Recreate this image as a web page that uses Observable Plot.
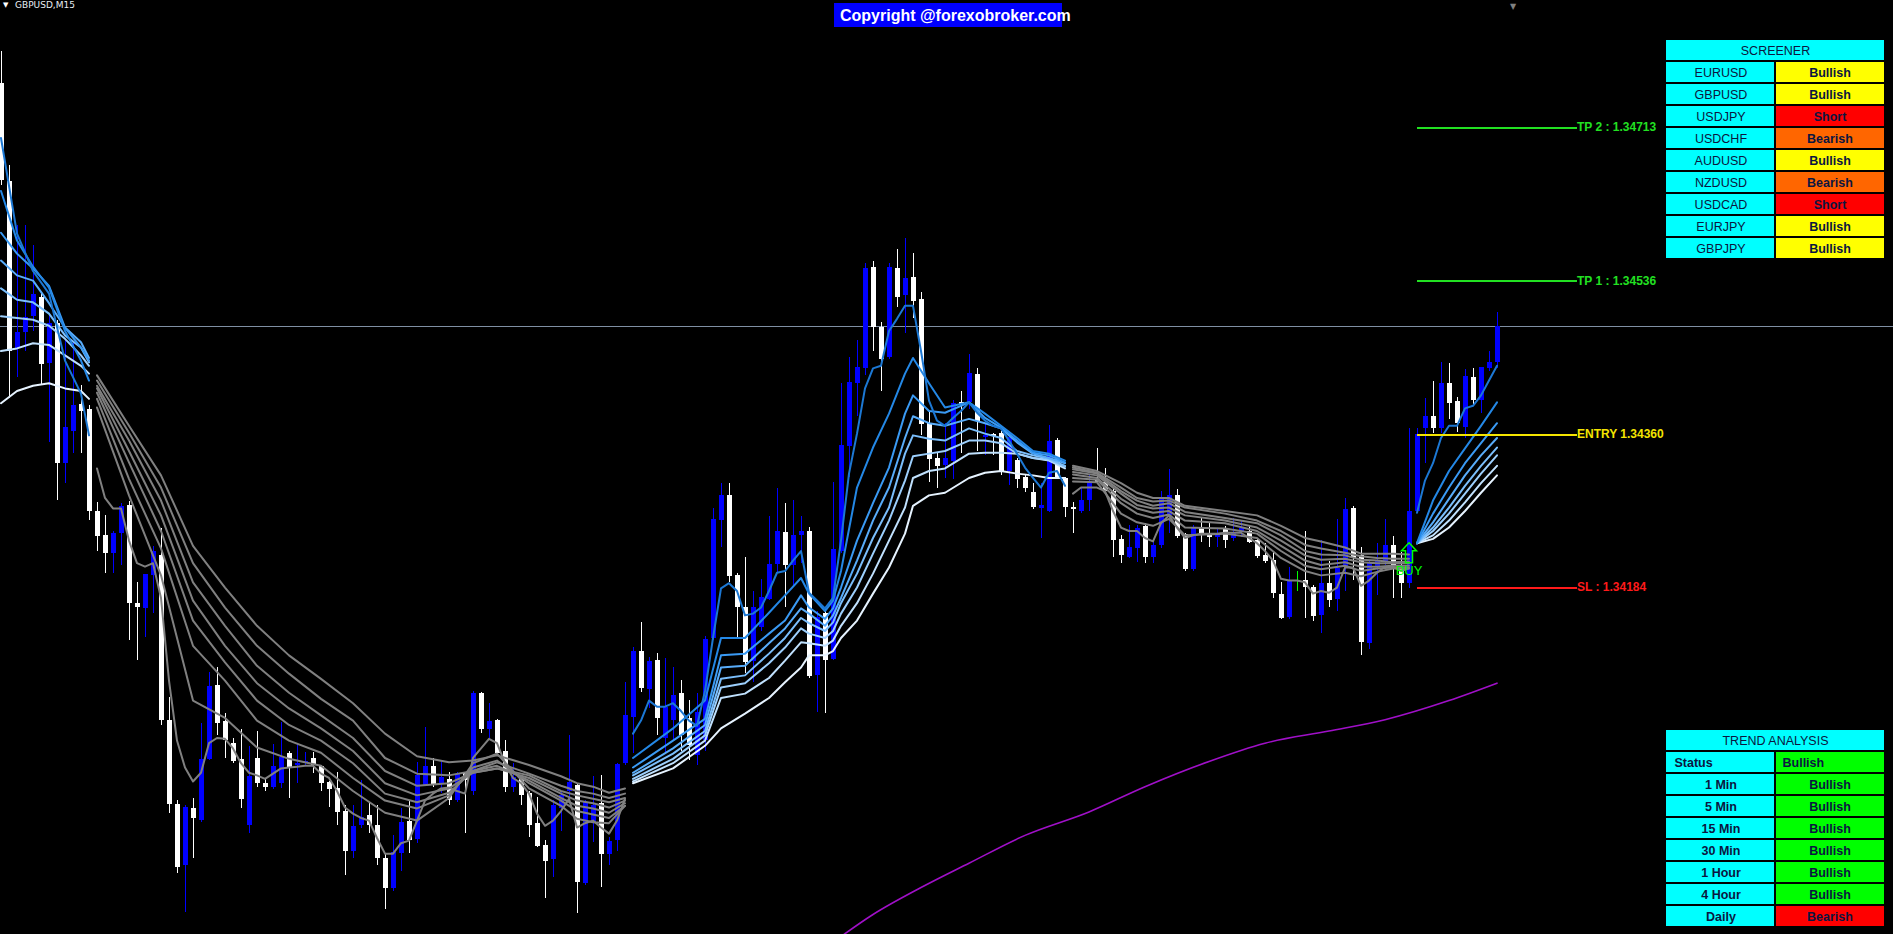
<!DOCTYPE html>
<html><head><meta charset="utf-8">
<script src="https://cdn.jsdelivr.net/npm/d3@7"></script>
<script src="https://cdn.jsdelivr.net/npm/@observablehq/plot@0.6"></script>
<style>
html,body{margin:0;padding:0;background:#000;overflow:hidden}
#wrap{position:relative;width:1893px;height:934px;background:#000}
.abs{position:absolute}
#sym{left:15px;top:0px;font:9px "DejaVu Sans",sans-serif;color:#e8eef4;white-space:nowrap}
#symtri{left:3px;top:1px;font:7px "DejaVu Sans",sans-serif;color:#fff}
#copybox{left:834px;top:3px;width:228px;height:24px;background:#0000ff}
#copy{left:840px;top:7px;font:bold 16px "Liberation Sans",Arial,sans-serif;color:#fff;white-space:nowrap}
</style></head><body>
<div id="wrap">
  <div id="chart" class="abs" style="left:0;top:0"></div>
  <div id="symtri" class="abs">▼</div>
  <div id="sym" class="abs">GBPUSD,M15</div>
  <div id="copybox" class="abs"></div>
  <div id="copy" class="abs">Copyright @forexobroker.com</div>
  <div id="screener" class="abs" style="left:1666px;top:40px"></div>
  <div id="trend" class="abs" style="left:1666px;top:730px"></div>
</div>
<script>
// ---------------- candles (GBPUSD M15) ----------------
const open = [
1.34764,1.34651,1.34459,1.34477,1.34496,1.34517,1.34442,1.34488,1.34327,1.34364,
1.34394,1.34389,1.34272,1.34244,1.34223,1.34246,1.34278,1.34166,1.34160,1.34198,
1.34221,1.34031,1.33934,1.33864,1.33930,1.33916,1.33986,1.34071,1.34030,1.34005,
1.33986,1.33910,1.33987,1.33959,1.33954,1.33959,1.33993,1.33979,1.33982,1.33987,
1.33978,1.33960,1.33953,1.33927,1.33881,1.33910,1.33922,1.33910,1.33872,1.33838,
1.33878,1.33915,1.33894,1.33956,1.33978,1.33959,1.33963,1.33939,1.33970,1.33950,
1.34062,1.34021,1.34031,1.33995,1.33954,1.33964,1.33947,1.33913,1.33887,1.33871,
1.33930,1.33950,1.33956,1.33844,1.33913,1.33936,1.33877,1.33893,1.33982,1.34034,
1.34111,1.34067,1.34100,1.34010,1.34031,1.34062,1.34033,1.33991,1.34008,1.34125,
1.34261,1.34290,1.34198,1.34161,1.34099,1.34138,1.34170,1.34210,1.34247,1.34209,
1.34244,1.34249,1.34083,1.34154,1.34101,1.34226,1.34346,1.34419,1.34436,1.34552,
1.34483,1.34448,1.34551,1.34520,1.34540,1.34515,1.34373,1.34332,1.34324,1.34329,
1.34397,1.34397,1.34429,1.34356,1.34360,1.34361,1.34318,1.34330,1.34310,1.34293,
1.34275,1.34272,1.34353,1.34309,1.34276,1.34272,1.34284,1.34307,1.34305,1.34295,
1.34239,1.34218,1.34229,1.34254,1.34218,1.34232,1.34267,1.34290,1.34245,1.34205,
1.34252,1.34246,1.34241,1.34252,1.34240,1.34247,1.34249,1.34238,1.34221,1.34215,
1.34176,1.34149,1.34192,1.34192,1.34184,1.34152,1.34189,1.34170,1.34207,1.34275,
1.34221,1.34120,1.34207,1.34213,1.34232,1.34207,1.34189,1.34272,1.34367,1.34381,
1.34367,1.34419,1.34398,1.34368,1.34425,1.34399,1.34436,1.34443];
const high = [
1.34801,1.34669,1.34600,1.34600,1.34577,1.34522,1.34499,1.34491,1.34468,1.34466,
1.34416,1.34393,1.34282,1.34267,1.34249,1.34281,1.34283,1.34190,1.34199,1.34231,
1.34252,1.34057,1.33939,1.33933,1.33941,1.34028,1.34086,1.34092,1.34039,1.34010,
1.34021,1.34001,1.34018,1.33964,1.34003,1.34029,1.33996,1.34003,1.33994,1.33994,
1.33979,1.33961,1.33971,1.33933,1.33933,1.33962,1.33936,1.33933,1.33878,1.33899,
1.33930,1.33939,1.33983,1.34023,1.33987,1.33985,1.33971,1.33971,1.33971,1.34065,
1.34063,1.34051,1.34032,1.34008,1.33982,1.33965,1.33950,1.33942,1.33893,1.33939,
1.33950,1.34014,1.33959,1.33939,1.33967,1.33968,1.33896,1.33982,1.34075,1.34115,
1.34144,1.34103,1.34108,1.34102,1.34092,1.34077,1.34054,1.34062,1.34128,1.34275,
1.34304,1.34304,1.34200,1.34218,1.34179,1.34193,1.34266,1.34298,1.34281,1.34284,
1.34266,1.34253,1.34157,1.34160,1.34305,1.34419,1.34448,1.34468,1.34557,1.34559,
1.34489,1.34557,1.34573,1.34585,1.34568,1.34523,1.34387,1.34338,1.34373,1.34399,
1.34409,1.34452,1.34436,1.34373,1.34361,1.34364,1.34361,1.34332,1.34313,1.34304,
1.34304,1.34370,1.34355,1.34310,1.34282,1.34298,1.34313,1.34344,1.34321,1.34299,
1.34244,1.34255,1.34255,1.34258,1.34238,1.34295,1.34320,1.34297,1.34246,1.34255,
1.34263,1.34258,1.34252,1.34254,1.34263,1.34261,1.34255,1.34240,1.34235,1.34224,
1.34190,1.34207,1.34203,1.34248,1.34186,1.34238,1.34214,1.34262,1.34286,1.34277,
1.34230,1.34214,1.34235,1.34262,1.34243,1.34224,1.34367,1.34367,1.34401,1.34421,
1.34443,1.34442,1.34402,1.34435,1.34436,1.34437,1.34456,1.34500];
const low = [
1.34646,1.34401,1.34425,1.34456,1.34479,1.34416,1.34351,1.34284,1.34304,1.34338,
1.34338,1.34261,1.34226,1.34200,1.34200,1.34209,1.34123,1.34100,1.34126,1.34154,
1.34025,1.33924,1.33855,1.33810,1.33872,1.33914,1.33985,1.34014,1.33987,1.33982,
1.33930,1.33901,1.33954,1.33949,1.33952,1.33953,1.33941,1.33959,1.33979,1.33970,
1.33950,1.33931,1.33910,1.33853,1.33872,1.33907,1.33901,1.33864,1.33814,1.33834,
1.33858,1.33878,1.33890,1.33955,1.33954,1.33947,1.33933,1.33937,1.33901,1.33945,
1.34016,1.34010,1.33993,1.33948,1.33948,1.33933,1.33896,1.33885,1.33826,1.33850,
1.33904,1.33939,1.33809,1.33841,1.33891,1.33839,1.33864,1.33881,1.33979,1.33993,
1.34063,1.34045,1.34014,1.33994,1.34008,1.33996,1.33985,1.33979,1.33996,1.34123,
1.34230,1.34190,1.34125,1.34085,1.34075,1.34134,1.34169,1.34200,1.34161,1.34184,
1.34212,1.34079,1.34040,1.34039,1.34100,1.34223,1.34310,1.34381,1.34428,1.34456,
1.34410,1.34446,1.34506,1.34476,1.34493,1.34359,1.34305,1.34298,1.34309,1.34308,
1.34338,1.34389,1.34341,1.34336,1.34336,1.34313,1.34301,1.34298,1.34293,1.34274,
1.34240,1.34270,1.34309,1.34264,1.34246,1.34269,1.34272,1.34302,1.34292,1.34218,
1.34212,1.34217,1.34213,1.34212,1.34212,1.34229,1.34246,1.34240,1.34203,1.34202,
1.34236,1.34230,1.34230,1.34229,1.34237,1.34241,1.34235,1.34217,1.34212,1.34171,
1.34147,1.34147,1.34179,1.34148,1.34145,1.34131,1.34161,1.34157,1.34179,1.34192,
1.34106,1.34113,1.34175,1.34209,1.34171,1.34171,1.34183,1.34269,1.34327,1.34361,
1.34361,1.34377,1.34362,1.34355,1.34394,1.34384,1.34432,1.34436];
const close = [
1.34652,1.34456,1.34477,1.34494,1.34521,1.34440,1.34488,1.34327,1.34368,1.34393,
1.34387,1.34271,1.34243,1.34223,1.34246,1.34277,1.34166,1.34161,1.34199,1.34225,
1.34031,1.33934,1.33862,1.33931,1.33918,1.33986,1.34070,1.34028,1.34008,1.33984,
1.33940,1.33967,1.33959,1.33954,1.33978,1.33988,1.33977,1.33982,1.33984,1.33979,
1.33959,1.33952,1.33925,1.33880,1.33909,1.33919,1.33910,1.33872,1.33838,1.33879,
1.33914,1.33893,1.33968,1.33978,1.33956,1.33965,1.33939,1.33969,1.33962,1.34062,
1.34021,1.34030,1.33993,1.33954,1.33965,1.33945,1.33910,1.33886,1.33869,1.33933,
1.33945,1.33960,1.33845,1.33937,1.33933,1.33877,1.33892,1.33980,1.34037,1.34111,
1.34068,1.34099,1.34033,1.34046,1.34060,1.34014,1.34002,1.34040,1.34124,1.34262,
1.34290,1.34197,1.34161,1.34098,1.34161,1.34172,1.34210,1.34248,1.34209,1.34244,
1.34249,1.34082,1.34149,1.34100,1.34228,1.34347,1.34420,1.34437,1.34551,1.34483,
1.34446,1.34552,1.34517,1.34539,1.34513,1.34371,1.34331,1.34323,1.34332,1.34396,
1.34393,1.34430,1.34375,1.34359,1.34358,1.34316,1.34356,1.34308,1.34298,1.34276,
1.34278,1.34352,1.34309,1.34276,1.34274,1.34284,1.34306,1.34305,1.34295,1.34238,
1.34221,1.34230,1.34252,1.34218,1.34232,1.34287,1.34290,1.34243,1.34205,1.34252,
1.34246,1.34241,1.34246,1.34238,1.34246,1.34252,1.34236,1.34220,1.34214,1.34177,
1.34148,1.34192,1.34192,1.34184,1.34151,1.34189,1.34169,1.34206,1.34274,1.34217,
1.34121,1.34212,1.34215,1.34232,1.34209,1.34189,1.34272,1.34360,1.34381,1.34367,
1.34419,1.34396,1.34373,1.34427,1.34399,1.34437,1.34443,1.34484];
const bid = 1.34484;

// ---------------- moving-average ribbon ----------------
// trend segments: ribbon drawn in blue shades (up) or grey (flat)
const trendStarts = [0, 12, 79, 134, 177];
const trendUp = [true, false, true, false, true];
// sample bars shared by the seven slower averages
const ribbonBars = [0,2,4,6,8,10,11,
 12,16,20,24,28,32,36,40,44,48,52,56,59,62,66,70,72,74,76,78,
 79,84,88,90,93,96,98,100,101,103,104,105,107,109,111,113,114,116,118,121,123,125,127,129,131,133,
 134,137,140,142,144,146,148,153,157,160,163,165,168,170,172,174,176,
 177,179,181,183,185,187];
const ma2 = [1.34640,1.34583,1.34553,1.34529,1.34479,1.34445,1.34422,
 1.34391,1.34290,1.34198,1.34054,1.34034,1.34000,1.33987,1.33979,1.33950,1.33925,1.33916,1.33942,1.33982,1.33993,1.33953,1.33933,1.33918,1.33914,1.33913,1.33933,
 1.33988,1.34022,1.34054,1.34126,1.34126,1.34155,1.34175,1.34195,1.34177,1.34157,1.34169,1.34203,1.34299,1.34345,1.34384,1.34430,1.34448,1.34419,1.34391,1.34397,1.34384,1.34370,1.34356,1.34341,1.34338,1.34330,
 1.34306,1.34305,1.34269,1.34259,1.34255,1.34263,1.34244,1.34246,1.34241,1.34218,1.34203,1.34198,1.34201,1.34197,1.34202,1.34206,1.34206,
 1.34235,1.34284,1.34318,1.34344,1.34370,1.34397];
const ma3 = [1.34592,1.34568,1.34551,1.34531,1.34483,1.34460,1.34445,
 1.34401,1.34309,1.34229,1.34117,1.34077,1.34031,1.34008,1.33994,1.33965,1.33939,1.33930,1.33945,1.33977,1.33985,1.33959,1.33939,1.33927,1.33923,1.33919,1.33933,
 1.33977,1.34008,1.34033,1.34106,1.34108,1.34131,1.34146,1.34175,1.34161,1.34148,1.34160,1.34184,1.34238,1.34281,1.34322,1.34384,1.34405,1.34387,1.34385,1.34397,1.34379,1.34368,1.34353,1.34339,1.34336,1.34328,
 1.34310,1.34308,1.34281,1.34269,1.34264,1.34268,1.34253,1.34252,1.34246,1.34226,1.34209,1.34205,1.34209,1.34203,1.34206,1.34207,1.34207,
 1.34235,1.34269,1.34299,1.34327,1.34350,1.34373];
const ma4 = [1.34560,1.34543,1.34537,1.34511,1.34483,1.34466,1.34448,
 1.34408,1.34328,1.34249,1.34146,1.34098,1.34054,1.34026,1.34008,1.33982,1.33947,1.33937,1.33948,1.33973,1.33979,1.33962,1.33942,1.33933,1.33930,1.33925,1.33936,
 1.33971,1.33999,1.34026,1.34092,1.34094,1.34120,1.34137,1.34160,1.34154,1.34140,1.34152,1.34172,1.34215,1.34261,1.34299,1.34356,1.34381,1.34373,1.34370,1.34378,1.34373,1.34367,1.34351,1.34338,1.34333,1.34327,
 1.34314,1.34310,1.34286,1.34275,1.34270,1.34272,1.34261,1.34258,1.34249,1.34232,1.34215,1.34210,1.34213,1.34208,1.34208,1.34209,1.34209,
 1.34235,1.34259,1.34286,1.34313,1.34336,1.34356];
const ma5 = [1.34528,1.34515,1.34512,1.34499,1.34474,1.34460,1.34443,
 1.34413,1.34341,1.34267,1.34169,1.34117,1.34074,1.34045,1.34022,1.33996,1.33959,1.33945,1.33953,1.33971,1.33976,1.33965,1.33947,1.33939,1.33936,1.33931,1.33939,
 1.33968,1.33993,1.34019,1.34079,1.34083,1.34108,1.34126,1.34149,1.34143,1.34134,1.34144,1.34166,1.34200,1.34241,1.34276,1.34338,1.34359,1.34355,1.34353,1.34367,1.34361,1.34356,1.34341,1.34336,1.34332,1.34324,
 1.34317,1.34313,1.34292,1.34279,1.34275,1.34276,1.34267,1.34261,1.34253,1.34238,1.34221,1.34216,1.34217,1.34213,1.34212,1.34212,1.34212,
 1.34235,1.34253,1.34276,1.34301,1.34324,1.34345];
const ma6 = [1.34496,1.34494,1.34492,1.34485,1.34470,1.34451,1.34439,
 1.34416,1.34353,1.34284,1.34190,1.34140,1.34094,1.34063,1.34037,1.34011,1.33973,1.33956,1.33959,1.33971,1.33976,1.33968,1.33950,1.33945,1.33941,1.33937,1.33942,
 1.33964,1.33987,1.34014,1.34069,1.34074,1.34097,1.34115,1.34137,1.34131,1.34126,1.34134,1.34154,1.34184,1.34223,1.34261,1.34307,1.34335,1.34338,1.34341,1.34353,1.34353,1.34350,1.34338,1.34333,1.34331,1.34323,
 1.34320,1.34315,1.34295,1.34284,1.34278,1.34281,1.34271,1.34264,1.34258,1.34244,1.34226,1.34222,1.34221,1.34216,1.34215,1.34213,1.34214,
 1.34235,1.34249,1.34269,1.34292,1.34315,1.34336];
const ma7 = [1.34456,1.34459,1.34465,1.34463,1.34451,1.34439,1.34430,
 1.34422,1.34362,1.34299,1.34212,1.34161,1.34117,1.34085,1.34056,1.34031,1.33988,1.33970,1.33968,1.33973,1.33983,1.33970,1.33956,1.33950,1.33947,1.33942,1.33947,
 1.33961,1.33982,1.34008,1.34057,1.34062,1.34080,1.34100,1.34121,1.34120,1.34117,1.34123,1.34140,1.34166,1.34200,1.34238,1.34276,1.34310,1.34318,1.34321,1.34338,1.34339,1.34339,1.34338,1.34333,1.34330,1.34321,
 1.34322,1.34316,1.34299,1.34287,1.34283,1.34284,1.34276,1.34269,1.34261,1.34249,1.34233,1.34229,1.34224,1.34220,1.34218,1.34217,1.34217,
 1.34235,1.34244,1.34261,1.34282,1.34304,1.34324];
const ma8 = [1.34396,1.34410,1.34416,1.34419,1.34413,1.34410,1.34401,
 1.34428,1.34370,1.34313,1.34232,1.34184,1.34140,1.34106,1.34079,1.34051,1.34016,1.33990,1.33983,1.33985,1.33991,1.33980,1.33967,1.33959,1.33955,1.33948,1.33953,
 1.33959,1.33976,1.34002,1.34022,1.34039,1.34057,1.34075,1.34092,1.34106,1.34106,1.34111,1.34126,1.34146,1.34177,1.34207,1.34246,1.34278,1.34290,1.34293,1.34310,1.34316,1.34318,1.34315,1.34313,1.34310,1.34310,
 1.34324,1.34318,1.34304,1.34293,1.34287,1.34287,1.34278,1.34272,1.34267,1.34255,1.34241,1.34237,1.34230,1.34223,1.34223,1.34223,1.34222,
 1.34235,1.34240,1.34253,1.34272,1.34293,1.34313];
// fastest average, read at every bar from bar 12 on
const fastBars = [0,2,4,6,8,10,11].concat(d3.range(12, 188));
const ma1 = [1.34701,1.34591,1.34548,1.34522,1.34445,1.34407,1.34359,
 1.34321,1.34287,1.34275,1.34275,1.34238,1.34212,1.34208,1.34212,1.34172,1.34077,1.34008,1.33977,1.33961,1.33971,1.34005,1.34011,1.34010,1.33999,1.33982,1.33971,
 1.33968,1.33964,1.33970,1.33976,1.33977,1.33978,1.33979,1.33979,1.33970,1.33965,1.33950,1.33931,1.33924,1.33919,1.33916,1.33896,1.33878,1.33878,1.33890,1.33893,
 1.33916,1.33939,1.33947,1.33953,1.33954,1.33950,1.33947,1.33988,1.33999,1.34010,1.34005,1.33982,1.33965,1.33959,1.33947,1.33924,1.33910,1.33916,1.33927,1.33941,
 1.33908,1.33913,1.33916,1.33908,1.33901,1.33916,1.33941,
 1.34016,1.34031,1.34054,1.34047,1.34047,1.34051,1.34042,1.34031,1.34025,1.34065,1.34126,1.34183,1.34189,1.34180,1.34152,1.34154,1.34161,1.34180,1.34201,1.34203,
 1.34215,1.34226,1.34178,1.34169,1.34160,1.34172,1.34238,1.34315,1.34361,1.34413,1.34436,1.34439,1.34479,1.34493,1.34508,1.34508,1.34456,1.34399,1.34376,1.34370,
 1.34379,1.34387,1.34397,1.34385,1.34376,1.34370,1.34367,1.34353,1.34338,1.34322,1.34310,1.34299,1.34316,1.34318,1.34301,
 1.34292,1.34299,1.34299,1.34299,1.34295,1.34272,1.34253,1.34249,1.34249,1.34241,1.34237,1.34258,1.34267,1.34253,1.34241,1.34244,1.34246,1.34246,1.34246,1.34247,
 1.34247,1.34247,1.34241,1.34235,1.34226,1.34215,1.34194,1.34192,1.34192,1.34190,1.34177,1.34180,1.34178,1.34184,1.34207,1.34207,1.34186,1.34192,1.34201,1.34208,
 1.34208,1.34203,1.34206,
 1.34270,1.34307,1.34327,1.34356,1.34370,1.34370,1.34390,1.34393,1.34405,1.34422,1.34439];

// slow (long period) average, purple
const slowBars = [104,109,115,121,128,136,143,151,158,166,173,181,187];
const slowMA = [1.33776,1.33808,1.33839,1.33867,1.33899,1.33926,1.33955,1.33984,1.34005,1.34019,1.34032,1.34054,1.34074];

// ---------------- trade levels ----------------
const levelLabels = ["TP 2 : 1.34713", "TP 1 : 1.34536", "ENTRY 1.34360", "SL : 1.34184"];
const levelPrices = [1.34713, 1.34536, 1.34360, 1.34184];
const levelColors = ["#22e022", "#22e022", "#f4e400", "#ff1a1a"];
const levelFromBar = 177, levelToBar = 197;
const buyBar = 176, buyPrice = 1.34224;
const shiftBar = 189;

// ---------------- screener / trend tables ----------------
const screenerPairs = ["EURUSD","GBPUSD","USDJPY","USDCHF","AUDUSD","NZDUSD","USDCAD","EURJPY","GBPJPY"];
const screenerSignals = ["Bullish","Bullish","Short","Bearish","Bullish","Bearish","Short","Bullish","Bullish"];
const trendFrames = ["Status","1 Min","5 Min","15 Min","30 Min","1 Hour","4 Hour","Daily"];
const trendSignals = ["Bullish","Bullish","Bullish","Bullish","Bullish","Bullish","Bullish","Bearish"];

// ================= build =================
const candles = open.map((o, i) => ({bar: i, open: o, high: high[i], low: low[i], close: close[i]}));
const candleColor = d => d.close > d.open ? "#0000ff" : d.close < d.open ? "#ffffff" : "#00ff00";
candles.forEach(d => d.color = candleColor(d));

const blues = ["#1c78d4","#2488e6","#3a9af4","#58acfa","#7abefc","#9ccffd","#c0e1fe","#e6f3ff"];
const segOf = b => d3.bisectRight(trendStarts, b) - 1;
const ribbon = [];
function addLine(bars, vals, k) {
  vals.forEach((v, j) => {
    const b = bars[j], s = segOf(b);
    ribbon.push({line: k, bar: b, value: v, key: k + "-" + s, up: trendUp[s],
      color: trendUp[s] ? blues[k - 1] : "#808080"});
  });
}
[ma8, ma7, ma6, ma5, ma4, ma3, ma2].forEach((vals, idx) => addLine(ribbonBars, vals, 8 - idx));
addLine(fastBars, ma1, 1);

const slow = slowBars.map((b, i) => ({bar: b, value: slowMA[i]}));
const levels = levelLabels.map((t, i) => ({label: t, price: levelPrices[i], color: levelColors[i]}));

// hollow up-arrow symbol (signal marker)
const upArrow = {
  draw(ctx, size) {
    const r = Math.sqrt(size / Math.PI);
    ctx.moveTo(0, -r);
    ctx.lineTo(0.75 * r, -0.2 * r);
    ctx.lineTo(0.35 * r, -0.2 * r);
    ctx.lineTo(0.35 * r, r);
    ctx.lineTo(-0.35 * r, r);
    ctx.lineTo(-0.35 * r, -0.2 * r);
    ctx.lineTo(-0.75 * r, -0.2 * r);
    ctx.closePath();
  }
};

const FONT = "Liberation Sans, Arial, sans-serif";

const chart = Plot.plot({
  width: 1893, height: 934, margin: 0,
  style: {background: "#000", overflow: "hidden"},
  x: {domain: [-0.0625, 236.5625], axis: null},
  y: {domain: [1.33785, 1.348591], axis: null},
  color: {type: "identity"},
  marks: [
    Plot.ruleY([bid], {stroke: "#7f8fa3", strokeWidth: 1, shapeRendering: "crispEdges"}),
    Plot.ruleX(candles, {x: "bar", y1: "low", y2: "high", stroke: "color", strokeWidth: 1, shapeRendering: "crispEdges"}),
    Plot.ruleX(candles.filter(d => d.open !== d.close), {x: "bar", y1: "open", y2: "close", stroke: "color", strokeWidth: 5, shapeRendering: "crispEdges"}),
    Plot.ruleY(candles.filter(d => d.open === d.close), {y: "close", x1: d => d.bar - 0.3, x2: d => d.bar + 0.3, stroke: "color"}),
    Plot.line(ribbon.filter(d => !d.up), {x: "bar", y: "value", z: "key", stroke: "color", strokeWidth: 2}),
    Plot.line(ribbon.filter(d => d.up), {x: "bar", y: "value", z: "key", stroke: "color", strokeWidth: 2}),
    Plot.line(slow, {x: "bar", y: "value", stroke: "#a010c8", strokeWidth: 1.6, curve: "monotone-x", clip: true}),
    Plot.ruleY(levels, {y: "price", x1: levelFromBar, x2: levelToBar, stroke: "color", strokeWidth: 2, shapeRendering: "crispEdges"}),
    Plot.text(levels, {x: levelToBar, y: "price", text: "label", fill: "color", textAnchor: "start", fontSize: 12, fontWeight: "bold", fontFamily: FONT}),
    Plot.dot([buyPrice], {x: buyBar, y: d => d, symbol: upArrow, r: 10, stroke: "#00ff00", strokeWidth: 1.5, fill: "none"}),
    Plot.text([buyPrice], {x: buyBar, y: d => d, dy: 18, text: () => "BUY", fill: "#00ff00", fontSize: 13, fontFamily: FONT}),
    Plot.text([shiftBar], {x: d => d, frameAnchor: "top", dy: 3, text: () => "▼", fill: "#808080", fontSize: 8, fontFamily: "DejaVu Sans"})
  ]
});
document.getElementById("chart").appendChild(chart);

function table(title, labels, values, fills, leftFirst) {
  const rows = [title, ...labels];
  const head = [{row: title, text: title}];
  const left = labels.map((l, i) => ({row: l, text: l, start: leftFirst && i === 0}));
  const right = labels.map((l, i) => ({row: l, text: values[i], fill: fills[i], start: leftFirst && i === 0}));
  const ink = "#0b1640";
  return Plot.plot({
    width: 218, height: 22 * rows.length - 2, margin: 0,
    style: {background: "transparent"},
    x: {domain: [0, 2], axis: null},
    y: {type: "band", domain: rows, paddingInner: 2 / 22, paddingOuter: 0, axis: null, round: false},
    color: {type: "identity"},
    marks: [
      Plot.barX(head, {x1: 0, x2: 2, y: "row", fill: "#00ffff"}),
      Plot.barX(left, {x1: 0, x2: 1, y: "row", fill: "#00ffff", insetRight: 1}),
      Plot.barX(right, {x1: 1, x2: 2, y: "row", fill: "fill", insetLeft: 1}),
      Plot.text(head, {x: 1, y: "row", text: "text", fill: ink, fontSize: 12.5, fontFamily: FONT}),
      Plot.text(left.filter(d => !d.start), {x: 0.5, y: "row", text: "text", fill: ink, fontSize: 12.5, fontWeight: leftFirst ? "bold" : "normal", fontFamily: FONT}),
      Plot.text(right.filter(d => !d.start), {x: 1.5, y: "row", text: "text", fill: ink, fontSize: 12.5, fontWeight: "bold", fontFamily: FONT}),
      Plot.text(left.filter(d => d.start), {x: 0, dx: 8, y: "row", text: "text", fill: ink, textAnchor: "start", fontSize: 12.5, fontWeight: "bold", fontFamily: FONT}),
      Plot.text(right.filter(d => d.start), {x: 1, dx: 7, y: "row", text: "text", fill: ink, textAnchor: "start", fontSize: 12.5, fontWeight: "bold", fontFamily: FONT})
    ]
  });
}
const sigColor = {Bullish: "#ffff00", Short: "#ff0000", Bearish: "#ff6600"};
document.getElementById("screener").appendChild(
  table("SCREENER", screenerPairs, screenerSignals, screenerSignals.map(s => sigColor[s]), false));
const trendColor = {Bullish: "#00ff00", Bearish: "#ff0000"};
document.getElementById("trend").appendChild(
  table("TREND ANALYSIS", trendFrames, trendSignals, trendSignals.map(s => trendColor[s]), true));
</script>
</body></html>
